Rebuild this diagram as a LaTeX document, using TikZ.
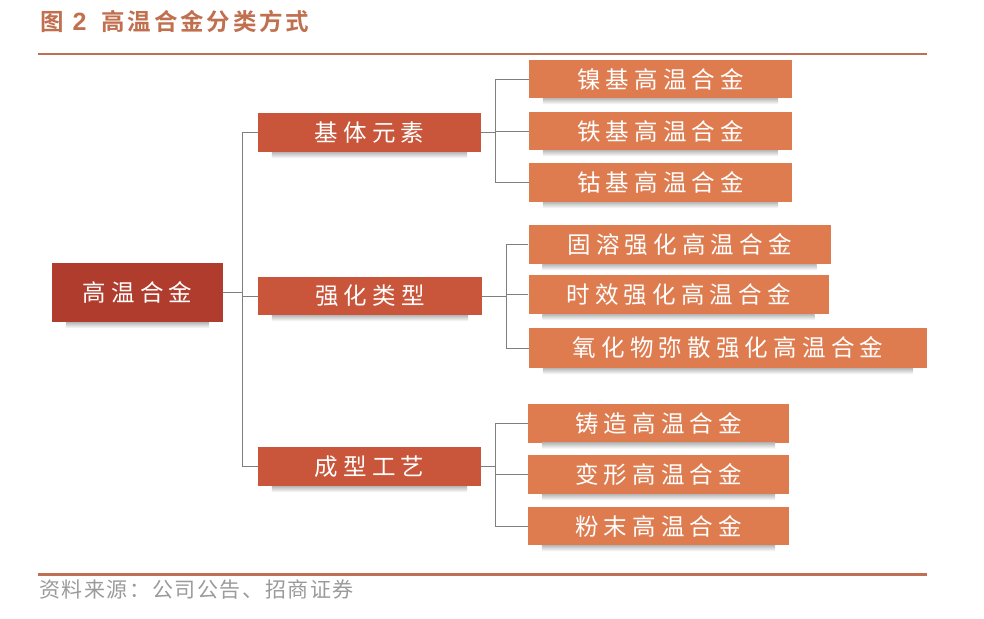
\documentclass[tikz,border=0pt]{standalone}
\usepackage{fontspec}
\newfontfamily\cjk{Noto Sans CJK SC}
\newfontfamily\cjkb{Noto Sans CJK SC}[BoldFont={* Bold}]
\newfontfamily\latb{Liberation Sans}
\definecolor{maincol}{HTML}{B03C2D}
\definecolor{midcol}{HTML}{C9553A}
\definecolor{leafcol}{HTML}{DE7C50}
\definecolor{rulecol}{HTML}{BF6F52}
\definecolor{titlecol}{HTML}{C0704F}
\definecolor{linecol}{HTML}{7F7F7F}
\definecolor{srccol}{HTML}{9A9A9A}
\makeatletter
\newlength\charsep
\newcommand\spaced[1]{\def\sp@first{1}\@tfor\sp@c:=#1\do{\ifx\sp@first\@empty\hspace{\charsep}\fi\sp@c\let\sp@first\@empty}}
\makeatother
\tikzset{
  boxbase/.style={rectangle, inner sep=0pt, text=white, font=\cjk\fontsize{23.5}{23.5}\selectfont},
  mainbox/.style={boxbase, fill=maincol},
  midbox/.style={boxbase, fill=midcol},
  leafbox/.style={boxbase, fill=leafcol},
  conn/.style={draw=linecol, line width=1pt},
  shadowbox/.style={top color=gray!55, bottom color=white},
}
\begin{document}
\begin{tikzpicture}[x=1pt,y=-1pt]
\useasboundingbox (0,0) rectangle (984,618);
\setlength\charsep{5.2pt}
% title
\node[anchor=west, inner sep=0pt, text=titlecol, font=\cjkb\bfseries\fontsize{23.5}{23.5}\selectfont] (title) at (40,21)
  {图\hspace{9pt}{\latb\bfseries\fontsize{25}{25}\selectfont 2}\hspace{15pt}\setlength\charsep{2.8pt}\spaced{高温合金分类方式}};
% rules
\coordinate (rt1) at (38,54);
\coordinate (rt2) at (927,54);
\draw[rulecol, line width=2.7pt] (rt1) -- (rt2);
\coordinate (rb1) at (38,574.5);
\coordinate (rb2) at (927,574.5);
\draw[rulecol, line width=2.7pt] (rb1) -- (rb2);
% source
\node[anchor=west, inner sep=0pt, text=srccol, font=\cjk\fontsize{21}{21}\selectfont] (src) at (39,590)
  {\setlength\charsep{1.6pt}\spaced{资料来源：公司公告、招商证券}};
% main
\node[mainbox, minimum width=171pt, minimum height=59pt] (m) at (137.5,292.5) {\spaced{高温合金}};
% level 2
\node[midbox, minimum width=223pt, minimum height=39pt] (a) at (369.5,132.5) {\spaced{基体元素}};
\node[midbox, minimum width=224pt, minimum height=38pt] (b) at (370,296) {\spaced{强化类型}};
\node[midbox, minimum width=223pt, minimum height=39pt] (c) at (369.5,466.5) {\spaced{成型工艺}};
% leaves
\node[leafbox, minimum width=263pt, minimum height=38pt] (a1) at (660.5,79) {\spaced{镍基高温合金}};
\node[leafbox, minimum width=263pt, minimum height=38pt] (a2) at (660.5,131) {\spaced{铁基高温合金}};
\node[leafbox, minimum width=263pt, minimum height=39pt] (a3) at (660.5,182.5) {\spaced{钴基高温合金}};
\node[leafbox, minimum width=302pt, minimum height=39pt] (b1) at (679.5,244.5) {\spaced{固溶强化高温合金}};
\node[leafbox, minimum width=300pt, minimum height=39pt] (b2) at (678.5,294.5) {\spaced{时效强化高温合金}};
\node[leafbox, minimum width=398pt, minimum height=40pt] (b3) at (728,348) {\spaced{氧化物弥散强化高温合金}};
\node[leafbox, minimum width=261pt, minimum height=39pt] (c1) at (658.5,423) {\spaced{铸造高温合金}};
\node[leafbox, minimum width=261pt, minimum height=39pt] (c2) at (658.5,474.5) {\spaced{变形高温合金}};
\node[leafbox, minimum width=261pt, minimum height=38pt] (c3) at (658.5,526) {\spaced{粉末高温合金}};
% shadows
\foreach \n in {m,a,b,c,a1,a2,a3,b1,b2,b3,c1,c2,c3}{
  \shade[shadowbox] ([xshift=14pt]\n.south west) rectangle ([xshift=-14pt,yshift=-6pt]\n.south east);
}
% connectors level 1
\coordinate (busm) at (242,0);
\draw[conn] (m.east) -- (m.east -| busm);
\draw[conn] (a.west) -| (busm |- c.west) -- (c.west);
\draw[conn] (b.west) -- (b.west -| busm);
% connectors for a
\coordinate (busa) at (495,0);
\draw[conn] (a.east) -- (a.east -| busa);
\draw[conn] (a1.west) -| (busa |- a3.west) -- (a3.west);
\draw[conn] (a2.west) -- (a2.west -| busa);
% connectors for b
\coordinate (busb) at (506,0);
\draw[conn] (b.east) -- (b.east -| busb);
\draw[conn] (b1.west) -| (busb |- b3.west) -- (b3.west);
\draw[conn] (b2.west) -- (b2.west -| busb);
% connectors for c
\coordinate (busc) at (495,0);
\draw[conn] (c.east) -- (c.east -| busc);
\draw[conn] (c1.west) -| (busc |- c3.west) -- (c3.west);
\draw[conn] (c2.west) -- (c2.west -| busc);
\end{tikzpicture}
\end{document}
